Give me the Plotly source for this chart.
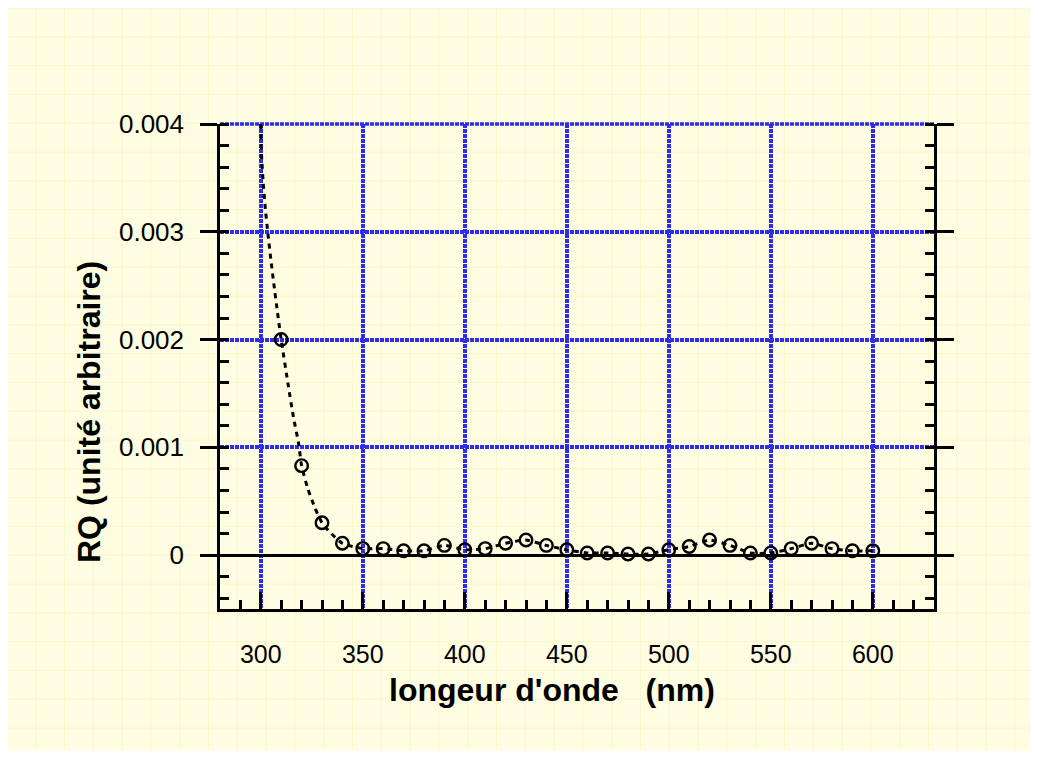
import plotly.graph_objects as go

# ---- data ----
wavelength = [310, 320, 330, 340, 350, 360, 370, 380, 390, 400,
              410, 420, 430, 440, 450, 460, 470, 480, 490, 500,
              510, 520, 530, 540, 550, 560, 570, 580, 590, 600]
rq = [0.00200, 0.00083, 0.00030, 0.00011, 0.00006, 0.00006, 0.00004, 0.00004, 0.00009, 0.00005,
      0.00006, 0.00011, 0.00014, 0.00009, 0.00005, 0.00002, 0.00002, 0.00001, 0.00001, 0.00005,
      0.00008, 0.00014, 0.00009, 0.00002, 0.00002, 0.00006, 0.00011, 0.00006, 0.00004, 0.00004]

# dotted fitted curve, lead-in part
fit_lead_x = [300.0, 300.4, 301.2, 302.3, 303.5, 305.0, 306.5, 308.2, 310.0,
              313.5, 316.0, 318.5, 320.0, 323.0, 326.5, 330.0, 334.0]
fit_lead_y = [0.00400, 0.00370, 0.00345, 0.00320, 0.00298, 0.00273, 0.00250, 0.00225, 0.00200,
              0.00157, 0.00128, 0.00104, 0.00083, 0.00062, 0.00044, 0.00030, 0.00021]

x_tickvals = [300, 350, 400, 450, 500, 550, 600]
x_ticktext = ["300", "350", "400", "450", "500", "550", "600"]
y_tickvals = [0, 0.001, 0.002, 0.003, 0.004]
y_ticktext = ["0", "0.001", "0.002", "0.003", "0.004"]

x_title = "longeur d'onde &nbsp; (nm)"
y_title = "RQ (unité arbitraire)"

# ---- figure ----
OFF = 8  # page body margin
W, H = 1022, 742
L, T = 220 - OFF, 124 - OFF
R = W - (934 - OFF)
B = H - (609 - OFF)
pw, ph = W - L - R, H - T - B

def px2paper_x(px):
    return (px - OFF - L) / pw

def px2paper_y(py):
    return (H - B - (py - OFF)) / ph

fit_x = fit_lead_x + wavelength[3:]
fit_y = fit_lead_y + rq[3:]

grid_col = "rgb(45,45,235)"
grid_w = 3.5
grid_dash = "4px,1px"

fig = go.Figure()
fig.add_trace(go.Scatter(
    x=fit_x, y=fit_y, mode="lines",
    line=dict(color="black", width=3, dash="5px,5px", shape="spline", smoothing=0.6),
    hoverinfo="skip", showlegend=False))
fig.add_trace(go.Scatter(
    x=wavelength, y=rq, mode="markers",
    marker=dict(symbol="circle-open", size=12.5, color="black", line=dict(width=2.4)),
    showlegend=False, cliponaxis=False))

shapes = []
# yellow paper background
shapes.append(dict(type="rect", xref="paper", yref="paper", layer="below",
                   x0=px2paper_x(7), x1=px2paper_x(1031), y0=px2paper_y(750), y1=px2paper_y(8),
                   fillcolor="#fefde2", line=dict(width=0)))
# faint texture lines
step = 28.8
k = 0
while 7 + step * k < 1031:
    p = 7 + step * k
    shapes.append(dict(type="line", xref="paper", yref="paper", layer="below",
                       x0=px2paper_x(p), x1=px2paper_x(p), y0=px2paper_y(750), y1=px2paper_y(8),
                       line=dict(color="#faf6cc", width=1)))
    k += 1
k = 0
while 8 + step * k < 750:
    p = 8 + step * k
    shapes.append(dict(type="line", xref="paper", yref="paper", layer="below",
                       x0=px2paper_x(7), x1=px2paper_x(1031), y0=px2paper_y(p), y1=px2paper_y(p),
                       line=dict(color="#faf6cc", width=1)))
    k += 1
# top gridline along the plot's upper edge (plotly drops the one at the range end)
shapes.append(dict(type="line", xref="paper", yref="paper", layer="below",
                   x0=0, x1=1, y0=1, y1=1,
                   line=dict(color=grid_col, width=grid_w, dash=grid_dash)))

fig.update_layout(
    width=W, height=H,
    margin=dict(l=L, r=R, t=T, b=B, pad=0),
    paper_bgcolor="white", plot_bgcolor="rgba(0,0,0,0)",
    font=dict(family="Liberation Sans, Arial, sans-serif", color="black", size=25),
    shapes=shapes,
    showlegend=False,
    xaxis=dict(
        range=[280, 630], tickvals=x_tickvals, ticktext=x_ticktext,
        ticks="inside", ticklen=17, tickwidth=2.5, tickcolor="black",
        minor=dict(dtick=10, tick0=0, ticks="inside", ticklen=9, tickwidth=2.5, tickcolor="black", showgrid=False),
        showline=True, linewidth=2.5, linecolor="black", mirror=False,
        showgrid=True, gridcolor=grid_col, gridwidth=grid_w, griddash=grid_dash,
        zeroline=False, ticklabelstandoff=21,
        tickfont=dict(size=25)),
    yaxis=dict(
        range=[-0.0005, 0.004], tickvals=y_tickvals, ticktext=y_ticktext,
        ticks="outside", ticklen=17, tickwidth=2.5, tickcolor="black",
        minor=dict(dtick=0.0002, tick0=0, ticks="inside", ticklen=9, tickwidth=2.5, tickcolor="black", showgrid=False),
        showline=True, linewidth=2.5, linecolor="black", mirror="ticks",
        showgrid=True, gridcolor=grid_col, gridwidth=grid_w, griddash=grid_dash,
        zeroline=True, zerolinecolor="black", zerolinewidth=2.5,
        ticklabelstandoff=11,
        tickfont=dict(size=26)),
    annotations=[
        dict(text="<b>" + x_title + "</b>", xref="paper", yref="paper",
             x=px2paper_x(552), y=px2paper_y(690), xanchor="center", yanchor="middle",
             showarrow=False, font=dict(size=32)),
        dict(text="<b>" + y_title + "</b>", xref="paper", yref="paper",
             x=px2paper_x(89), y=px2paper_y(412), xanchor="center", yanchor="middle",
             textangle=-90, showarrow=False, font=dict(size=32)),
    ],
)

fig.write_html("out.html")
